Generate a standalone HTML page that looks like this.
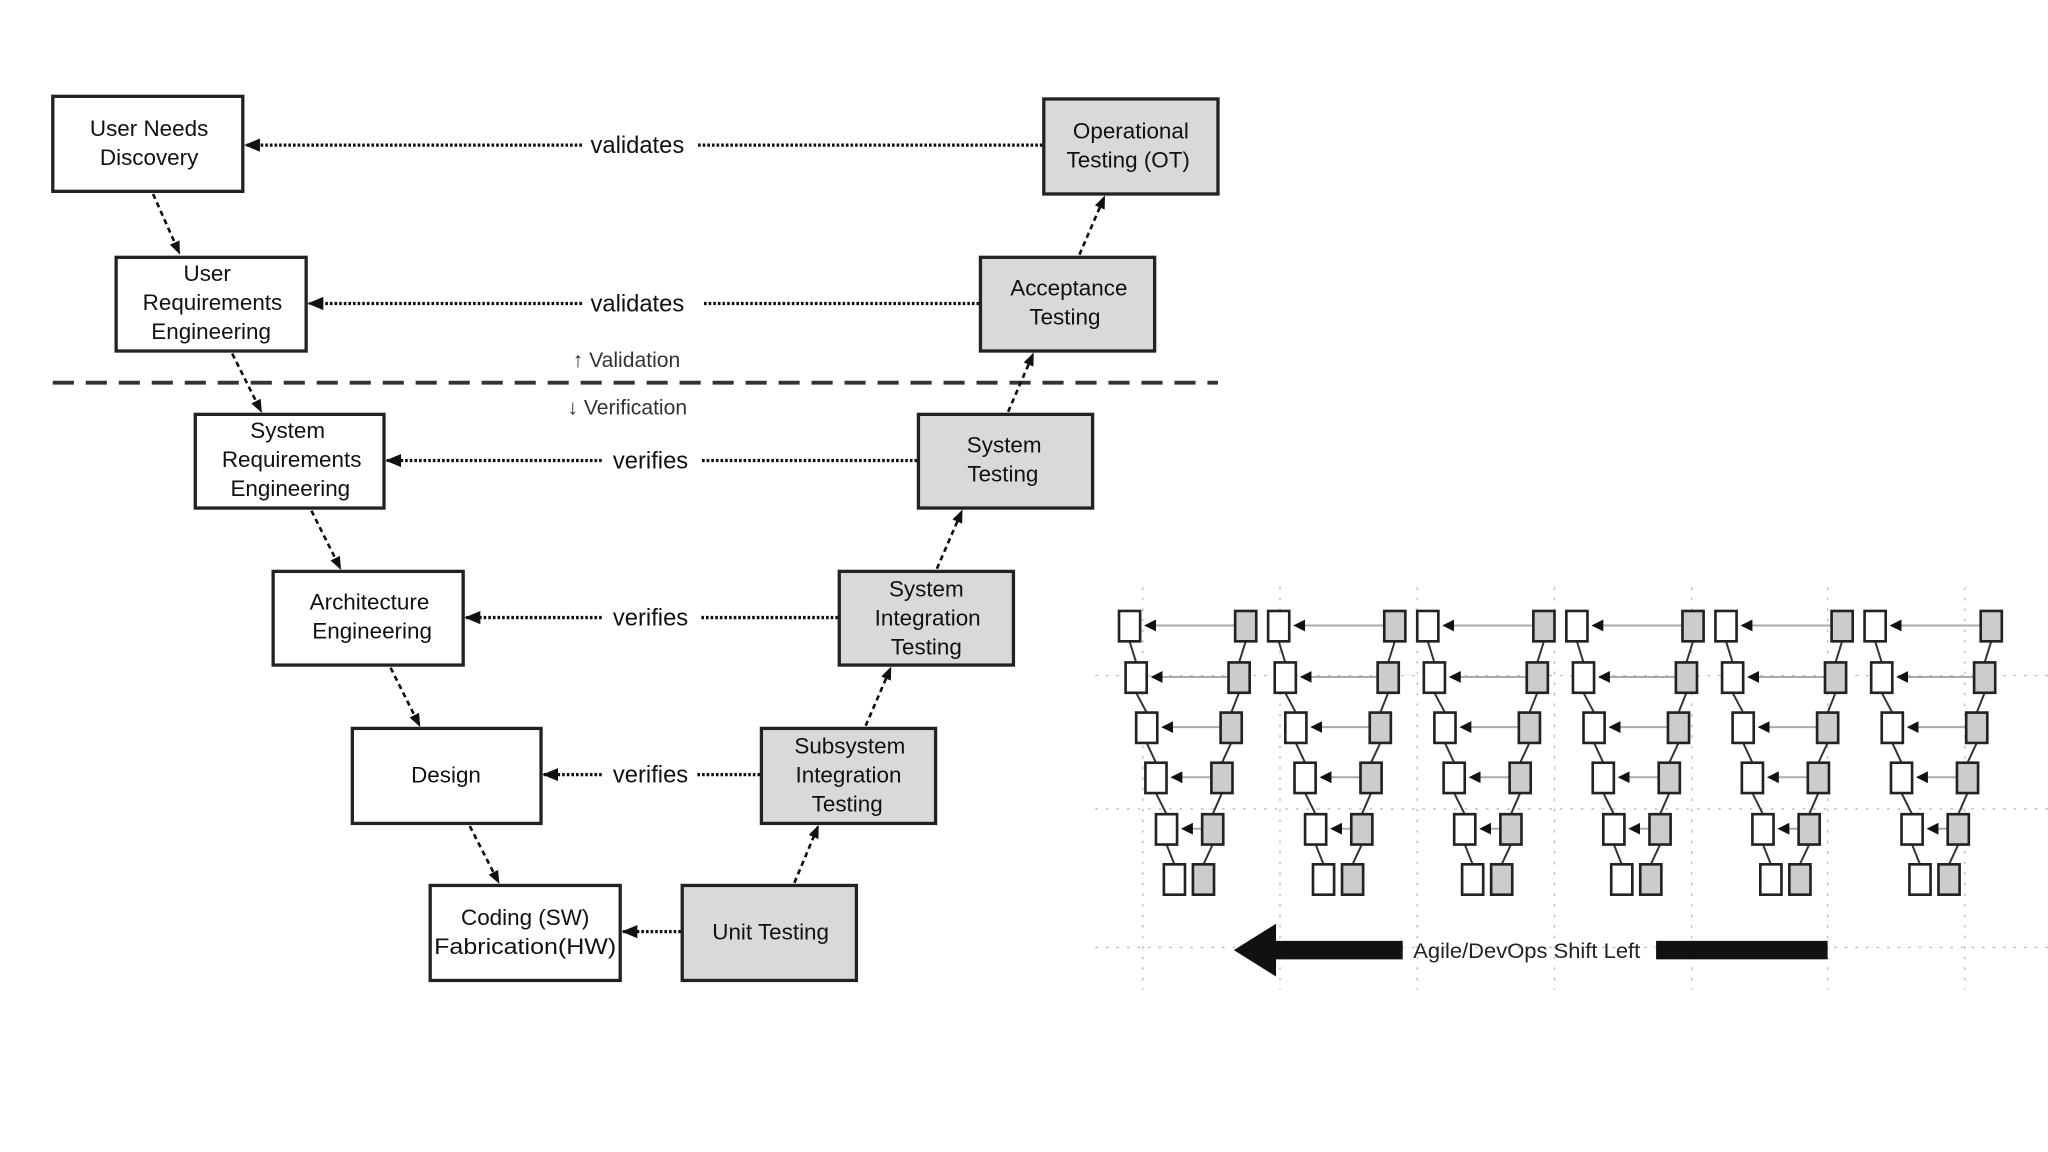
<!DOCTYPE html>
<html><head><meta charset="utf-8"><style>
html,body{margin:0;padding:0;background:#fff;}
svg{display:block;}
text{font-family:"Liberation Sans",sans-serif;}
</style></head><body>
<svg width="2048" height="1152" viewBox="0 0 1552 873" preserveAspectRatio="none" xmlns="http://www.w3.org/2000/svg">
<defs>
<marker id="ah" markerWidth="10" markerHeight="8" refX="9" refY="4" orient="auto" markerUnits="userSpaceOnUse"><path d="M0,0 L10,4 L0,8 z" fill="#111"/></marker>
<marker id="ah2" markerWidth="12" markerHeight="10" refX="11" refY="5" orient="auto" markerUnits="userSpaceOnUse"><path d="M0,0 L12,5 L0,10 z" fill="#111"/></marker>
<marker id="sa" markerWidth="9" markerHeight="9" refX="8" refY="4.5" orient="auto" markerUnits="userSpaceOnUse"><path d="M0,0 L9,4.5 L0,9 z" fill="#111"/></marker>
<g id="v">
 <g stroke="#333" stroke-width="1.5">
  <line x1="8" y1="23" x2="13" y2="39"/><line x1="13" y1="62" x2="21" y2="77"/><line x1="21" y1="100" x2="28" y2="115"/><line x1="28" y1="138" x2="36" y2="154"/><line x1="36" y1="177" x2="42" y2="192"/>
  <line x1="96" y1="23" x2="91" y2="39"/><line x1="91" y1="62" x2="85" y2="77"/><line x1="85" y1="100" x2="78" y2="115"/><line x1="78" y1="138" x2="71" y2="154"/><line x1="71" y1="177" x2="64" y2="192"/>
 </g>
 <g stroke="#aaa" stroke-width="1.5">
  <line x1="88" y1="11" x2="20" y2="11" marker-end="url(#sa)"/>
  <line x1="83" y1="50" x2="25" y2="50" marker-end="url(#sa)"/>
  <line x1="77" y1="88" x2="33" y2="88" marker-end="url(#sa)"/>
  <line x1="70" y1="126" x2="40" y2="126" marker-end="url(#sa)"/>
  <line x1="63" y1="165" x2="48" y2="165" marker-end="url(#sa)"/>
 </g>
 <g stroke="#222" stroke-width="2" fill="#fff">
  <rect x="0" y="0" width="16" height="23"/><rect x="5" y="39" width="16" height="23"/><rect x="13" y="77" width="16" height="23"/><rect x="20" y="115" width="16" height="23"/><rect x="28" y="154" width="16" height="23"/><rect x="34" y="192" width="16" height="23"/>
 </g>
 <g stroke="#222" stroke-width="2" fill="#ccc">
  <rect x="88" y="0" width="16" height="23"/><rect x="83" y="39" width="16" height="23"/><rect x="77" y="77" width="16" height="23"/><rect x="70" y="115" width="16" height="23"/><rect x="63" y="154" width="16" height="23"/><rect x="56" y="192" width="16" height="23"/>
 </g>
</g>
</defs>

<!-- grid right panel -->
<g stroke="#bbb" stroke-width="1" stroke-dasharray="2,6">
 <line x1="830" y1="512" x2="1552" y2="512"/><line x1="830" y1="613" x2="1552" y2="613"/><line x1="830" y1="718" x2="1552" y2="718"/>
 <line x1="866" y1="445" x2="866" y2="750"/><line x1="970" y1="445" x2="970" y2="750"/><line x1="1074" y1="445" x2="1074" y2="750"/><line x1="1178" y1="445" x2="1178" y2="750"/><line x1="1282" y1="445" x2="1282" y2="750"/><line x1="1385" y1="445" x2="1385" y2="750"/><line x1="1489" y1="445" x2="1489" y2="750"/>
</g>
<use href="#v" x="848" y="463"/><use href="#v" x="961" y="463"/><use href="#v" x="1074" y="463"/><use href="#v" x="1187" y="463"/><use href="#v" x="1300" y="463"/><use href="#v" x="1413" y="463"/>
<path d="M935,720 L967,700 L967,713 L1063,713 L1063,727 L967,727 L967,740 z" fill="#111"/>
<rect x="1255" y="713" width="130" height="14" fill="#111"/>
<text x="1157" y="726" font-size="16" text-anchor="middle" fill="#222" textLength="172" lengthAdjust="spacingAndGlyphs">Agile/DevOps Shift Left</text>

<!-- dashed divider -->
<line x1="40" y1="290" x2="923" y2="290" stroke="#333" stroke-width="3" stroke-dasharray="16,9"/>
<text x="434" y="278" font-size="16" fill="#333">↑ Validation</text>
<text x="430" y="314" font-size="16" fill="#333">↓ Verification</text>

<!-- horizontal dotted arrows -->
<g stroke="#111" stroke-width="2.5" stroke-dasharray="2,1.5" fill="none">
 <line x1="441" y1="110" x2="186" y2="110" marker-end="url(#ah2)"/><line x1="790" y1="110" x2="528" y2="110"/>
 <line x1="441" y1="230" x2="234" y2="230" marker-end="url(#ah2)"/><line x1="742" y1="230" x2="533" y2="230"/>
 <line x1="456" y1="349" x2="293" y2="349" marker-end="url(#ah2)"/><line x1="695" y1="349" x2="532" y2="349"/>
 <line x1="456" y1="468" x2="353" y2="468" marker-end="url(#ah2)"/><line x1="635" y1="468" x2="530" y2="468"/>
 <line x1="456" y1="587" x2="412" y2="587" marker-end="url(#ah2)"/><line x1="576" y1="587" x2="528" y2="587"/>
 <line x1="516" y1="706" x2="472" y2="706" marker-end="url(#ah2)"/>
</g>
<g font-size="18" fill="#111" text-anchor="middle">
 <text x="483" y="116">validates</text><text x="483" y="236">validates</text>
 <text x="493" y="355">verifies</text><text x="493" y="474">verifies</text><text x="493" y="593">verifies</text>
</g>

<!-- diagonal arrows -->
<g stroke="#111" stroke-width="2" stroke-dasharray="4,3" fill="none">
 <line x1="116" y1="147" x2="136" y2="192" marker-end="url(#ah)"/>
 <line x1="176" y1="268" x2="198" y2="312" marker-end="url(#ah)"/>
 <line x1="236" y1="387" x2="258" y2="431" marker-end="url(#ah)"/>
 <line x1="296" y1="506" x2="318" y2="550" marker-end="url(#ah)"/>
 <line x1="356" y1="626" x2="378" y2="669" marker-end="url(#ah)"/>
 <line x1="602" y1="669" x2="620" y2="626" marker-end="url(#ah)"/>
 <line x1="656" y1="550" x2="675" y2="506" marker-end="url(#ah)"/>
 <line x1="710" y1="431" x2="729" y2="387" marker-end="url(#ah)"/>
 <line x1="764" y1="312" x2="783" y2="268" marker-end="url(#ah)"/>
 <line x1="818" y1="193" x2="837" y2="149" marker-end="url(#ah)"/>
</g>

<!-- boxes -->
<g stroke="#222" stroke-width="2.5">
 <rect x="40" y="73" width="144" height="72" fill="#fff"/>
 <rect x="88" y="195" width="144" height="71" fill="#fff"/>
 <rect x="148" y="314" width="143" height="71" fill="#fff"/>
 <rect x="207" y="433" width="144" height="71" fill="#fff"/>
 <rect x="267" y="552" width="143" height="72" fill="#fff"/>
 <rect x="326" y="671" width="144" height="72" fill="#fff"/>
 <rect x="791" y="75" width="132" height="72" fill="#d9d9d9"/>
 <rect x="743" y="195" width="132" height="71" fill="#d9d9d9"/>
 <rect x="696" y="314" width="132" height="71" fill="#d9d9d9"/>
 <rect x="636" y="433" width="132" height="71" fill="#d9d9d9"/>
 <rect x="577" y="552" width="132" height="72" fill="#d9d9d9"/>
 <rect x="517" y="671" width="132" height="72" fill="#d9d9d9"/>
</g>
<g font-size="17" fill="#111" text-anchor="middle">
 <text x="113" y="103">User Needs</text><text x="113" y="125">Discovery</text>
 <text x="157" y="213">User</text><text x="161" y="235">Requirements</text><text x="160" y="257">Engineering</text>
 <text x="218" y="332">System</text><text x="221" y="354">Requirements</text><text x="220" y="376">Engineering</text>
 <text x="280" y="462">Architecture</text><text x="282" y="484">Engineering</text>
 <text x="338" y="593">Design</text>
 <text x="398" y="701">Coding (SW)</text><text x="398" y="723" textLength="138" lengthAdjust="spacingAndGlyphs">Fabrication(HW)</text>
 <text x="857" y="105">Operational</text><text x="855" y="127">Testing (OT)</text>
 <text x="810" y="224">Acceptance</text><text x="807" y="246">Testing</text>
 <text x="761" y="343">System</text><text x="760" y="365">Testing</text>
 <text x="702" y="452">System</text><text x="703" y="474">Integration</text><text x="702" y="496">Testing</text>
 <text x="644" y="571">Subsystem</text><text x="643" y="593">Integration</text><text x="642" y="615">Testing</text>
 <text x="584" y="712">Unit Testing</text>
</g>
</svg>
</body></html>
